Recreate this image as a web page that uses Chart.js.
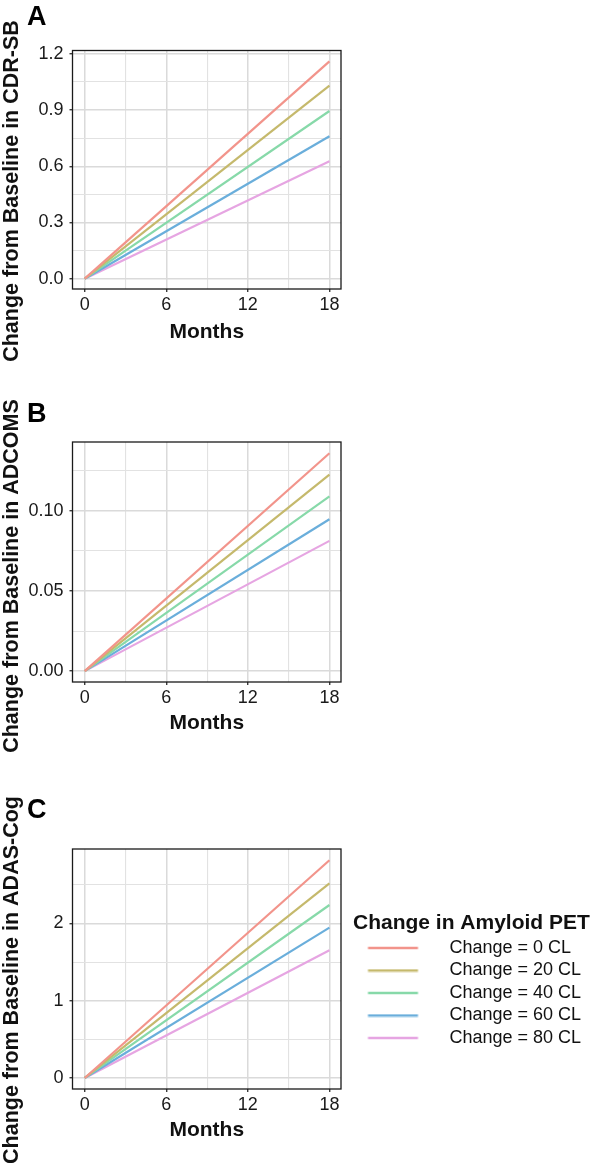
<!DOCTYPE html>
<html><head><meta charset="utf-8">
<script src="https://cdn.jsdelivr.net/npm/chart.js@4.4.1/dist/chart.umd.min.js"></script>
<style>
html,body{margin:0;padding:0;background:#fff;width:596px;height:1163px;overflow:hidden}
canvas{position:absolute;left:0}
</style></head><body>
<canvas id="cA" width="345" height="372" style="top:0px"></canvas>
<canvas id="cB" width="345" height="368" style="top:390px"></canvas>
<canvas id="cC" width="596" height="373" style="top:790px"></canvas>
<script>
// ---------- data ----------
const months = [0, 18];
const seriesLabels = ['Change = 0 CL', 'Change = 20 CL', 'Change = 40 CL', 'Change = 60 CL', 'Change = 80 CL'];
const seriesColors = ['#F2948B', '#C5B96C', '#87D9A9', '#6AAEDB', '#E6A5E2'];

const cdrsb_0CL  = [0, 1.160];
const cdrsb_20CL = [0, 1.030];
const cdrsb_40CL = [0, 0.895];
const cdrsb_60CL = [0, 0.760];
const cdrsb_80CL = [0, 0.627];

const adcoms_0CL  = [0, 0.1360];
const adcoms_20CL = [0, 0.1227];
const adcoms_40CL = [0, 0.1090];
const adcoms_60CL = [0, 0.0948];
const adcoms_80CL = [0, 0.0813];

const adas_0CL  = [0, 2.820];
const adas_20CL = [0, 2.520];
const adas_40CL = [0, 2.240];
const adas_60CL = [0, 1.947];
const adas_80CL = [0, 1.653];

const xMajorTicks = [0, 6, 12, 18];
const xMajorLabels = ['0', '6', '12', '18'];
const xMinorTicks = [3, 9, 15];

const cdrsbTicks = [0, 0.3, 0.6, 0.9, 1.2];
const cdrsbTickLabels = ['0.0', '0.3', '0.6', '0.9', '1.2'];
const cdrsbMinor = [0.15, 0.45, 0.75, 1.05];

const adcomsTicks = [0, 0.05, 0.10];
const adcomsTickLabels = ['0.00', '0.05', '0.10'];
const adcomsMinor = [0.025, 0.075, 0.125];

const adasTicks = [0, 1, 2];
const adasTickLabels = ['0', '1', '2'];
const adasMinor = [0.5, 1.5, 2.5];

// ---------- style ----------
const FAMILY = '"Liberation Sans", Arial, Helvetica, sans-serif';
Chart.defaults.font.family = FAMILY;
Chart.defaults.color = '#1a1a1a';
const GRID_MAJOR = '#dadada', GRID_MINOR = '#e2e2e2';

function makeTicks(majors, labels, minors) {
  return majors.map((v, i) => ({value: v, lbl: labels[i], minor: false}))
    .concat(minors.map(v => ({value: v, lbl: '', minor: true})));
}

// panel frame, panel letter and the y-axis title (centred on the whole panel, as in the figure)
const panelDecor = {
  id: 'panelDecor',
  afterDatasetsDraw(chart, args, opts) {
    const {ctx, chartArea: a} = chart;
    ctx.save();
    ctx.strokeStyle = '#1a1a1a';
    ctx.lineWidth = 1.3;
    ctx.strokeRect(a.left, a.top, a.right - a.left, a.bottom - a.top);
    ctx.fillStyle = '#000';
    ctx.font = 'bold 27px ' + FAMILY;
    ctx.textBaseline = 'alphabetic';
    ctx.textAlign = 'left';
    ctx.fillText(opts.letter, opts.letterX, opts.letterY);
    ctx.translate(opts.titleX, opts.titleY);
    ctx.rotate(-Math.PI / 2);
    ctx.font = 'bold 21.5px ' + FAMILY;
    ctx.fillStyle = '#111';
    ctx.textAlign = 'center';
    ctx.textBaseline = 'middle';
    ctx.fillText(opts.yTitle, 0, 0);
    ctx.restore();
  }
};

// legend swatches (line on transparent strip so the text sits further right)
const SWATCH_W = 83;
const swatches = seriesColors.map(c => {
  const cv = document.createElement('canvas');
  cv.width = SWATCH_W; cv.height = 4;
  const g = cv.getContext('2d');
  g.strokeStyle = c; g.lineWidth = 2.6;
  g.beginPath(); g.moveTo(10.5, 2); g.lineTo(60.5, 2); g.stroke();
  return cv;
});

function buildPanel(canvasId, cfg) {
  const datasets = cfg.series.map((vals, i) => ({
    label: seriesLabels[i],
    data: months.map((m, j) => ({x: m, y: vals[j]})),
    borderColor: seriesColors[i],
    backgroundColor: seriesColors[i],
    borderWidth: 2.2,
    pointRadius: 0,
    fill: false,
    tension: 0
  }));
  const yTickObjs = makeTicks(cfg.yTicks, cfg.yLabels, cfg.yMinor);
  const xTickObjs = makeTicks(xMajorTicks, xMajorLabels, xMinorTicks);
  const gridOpts = {
    color: c => (c.tick && c.tick.minor) ? GRID_MINOR : GRID_MAJOR,
    lineWidth: c => (c.tick && c.tick.minor) ? 1.1 : 1.5,
    tickColor: c => (c.tick && c.tick.minor) ? 'rgba(0,0,0,0)' : '#1a1a1a',
    tickWidth: 1.2,
    tickLength: 3,
    drawTicks: true
  };
  const scales = {
    x: {
      type: 'linear', min: -0.9, max: 18.85,
      afterBuildTicks: s => { s.ticks = xTickObjs.map(t => Object.assign({}, t)); },
      afterFit: s => { s.height = 61; },
      ticks: {autoSkip: false, maxRotation: 0, padding: 2, font: {size: 18},
              callback: (v, i, t) => t[i].lbl},
      grid: gridOpts,
      border: {display: false},
      title: {display: true, text: 'Months', font: {size: 21, weight: 'bold', lineHeight: 1.2},
              color: '#111', padding: {top: 0, bottom: cfg.xTitlePadBottom}}
    },
    y: {
      type: 'linear', min: cfg.yMin, max: cfg.yMax,
      afterBuildTicks: s => { s.ticks = yTickObjs.map(t => Object.assign({}, t)); },
      afterFit: s => { s.width = 72.5; },
      ticks: {autoSkip: false, padding: 6, font: {size: 18},
              callback: (v, i, t) => t[i].lbl},
      grid: gridOpts,
      border: {display: false},
      title: {display: false, text: cfg.yTitle}
    }
  };
  let legendOpts = {display: false};
  let padRight = 4;
  if (cfg.legend) {
    scales.gap = {
      type: 'linear', position: 'right', display: true,
      ticks: {display: false}, grid: {display: false, drawTicks: false}, border: {display: false},
      afterFit: s => { s.width = 12; }
    };
    const m = document.createElement('canvas').getContext('2d');
    m.font = 'normal 18px ' + FAMILY;
    const maxW = Math.max(...seriesLabels.map(l => m.measureText(l).width));
    const legendW = 4.5 + SWATCH_W + 9 + maxW + 10;
    padRight = 596 - 341 - 12 - legendW;
    legendOpts = {
      display: true, position: 'right', align: 'start', fullSize: false, maxWidth: 400,
      title: {display: true, text: 'Change in Amyloid PET', position: 'start',
              font: {size: 21, weight: 'bold', lineHeight: 1}, color: '#111',
              padding: {top: 63.5, bottom: 1}},
      labels: {
        usePointStyle: true, pointStyleWidth: SWATCH_W, padding: 4.5,
        font: {size: 18}, color: '#111',
        generateLabels: chart => {
          const items = Chart.defaults.plugins.legend.labels.generateLabels(chart);
          items.forEach(it => { it.pointStyle = swatches[it.datasetIndex]; it.lineWidth = 0; });
          return items;
        }
      }
    };
  }
  return new Chart(document.getElementById(canvasId), {
    type: 'line',
    data: {datasets},
    options: {
      responsive: false, animation: false, devicePixelRatio: 1,
      layout: {padding: {top: cfg.padTop, left: 0, right: padRight, bottom: cfg.padBottom || 0}},
      scales,
      plugins: {
        legend: legendOpts,
        tooltip: {enabled: false},
        panelDecor: {letter: cfg.letter, letterX: 27, letterY: cfg.letterY,
                     yTitle: cfg.yTitle, titleX: 12.5, titleY: cfg.titleY}
      }
    },
    plugins: [panelDecor]
  });
}

buildPanel('cA', {
  series: [cdrsb_0CL, cdrsb_20CL, cdrsb_40CL, cdrsb_60CL, cdrsb_80CL],
  yTicks: cdrsbTicks, yLabels: cdrsbTickLabels, yMinor: cdrsbMinor,
  yMin: -0.055, yMax: 1.218, yTitle: 'Change from Baseline in CDR-SB',
  padTop: 50.5, padBottom: 22, xTitlePadBottom: 5.4, letter: 'A', letterY: 25, titleY: 191
});
buildPanel('cB', {
  series: [adcoms_0CL, adcoms_20CL, adcoms_40CL, adcoms_60CL, adcoms_80CL],
  yTicks: adcomsTicks, yLabels: adcomsTickLabels, yMinor: adcomsMinor,
  yMin: -0.0068, yMax: 0.1430, yTitle: 'Change from Baseline in ADCOMS',
  padTop: 52, padBottom: 15, xTitlePadBottom: 7.4, letter: 'B', letterY: 32, titleY: 186
});
buildPanel('cC', {
  series: [adas_0CL, adas_20CL, adas_40CL, adas_60CL, adas_80CL],
  yTicks: adasTicks, yLabels: adasTickLabels, yMinor: adasMinor,
  yMin: -0.143, yMax: 2.965, yTitle: 'Change from Baseline in ADAS-Cog',
  padTop: 59, padBottom: 13, xTitlePadBottom: 7.4, letter: 'C', letterY: 28, titleY: 190, legend: true
});
</script>
</body></html>
